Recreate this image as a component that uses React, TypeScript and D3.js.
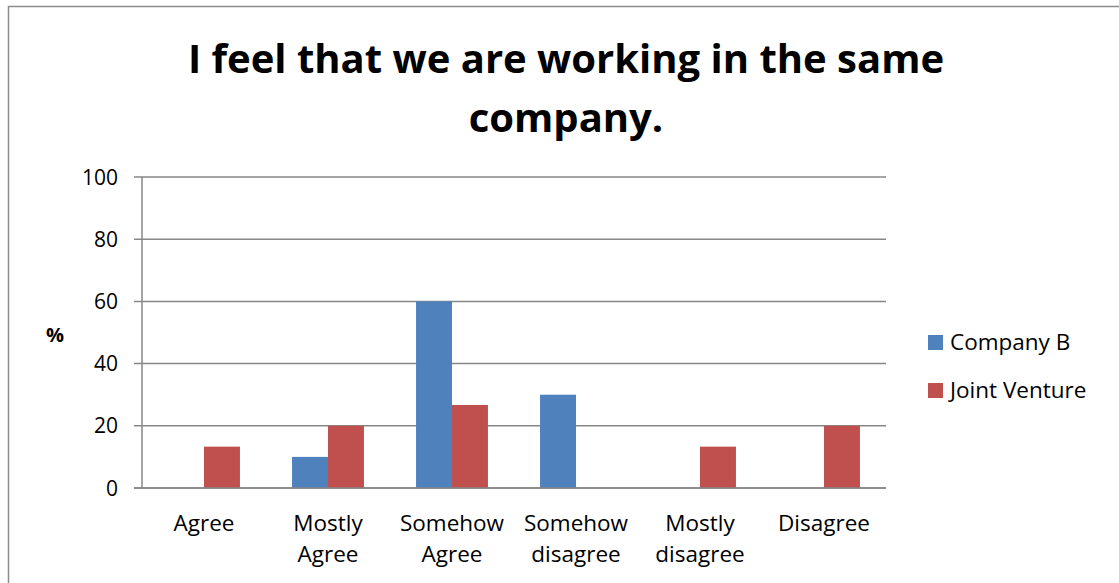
import React from "react";
import * as d3 from "d3";

const categories: string[][] = [
  ["Agree"],
  ["Mostly", "Agree"],
  ["Somehow", "Agree"],
  ["Somehow", "disagree"],
  ["Mostly", "disagree"],
  ["Disagree"],
];
const companyB: number[] = [0, 10, 60, 30, 0, 0];
const jointVenture: number[] = [13.3, 20, 26.7, 0, 13.3, 20];
const seriesNames = ["Company B", "Joint Venture"];
const seriesColors = ["#4F81BD", "#C0504D"];
const yTicks = [0, 20, 40, 60, 80, 100];
const titleLines = ["I feel that we are working in the same", "company."];

export default function App() {
  const W = 1119, H = 583;
  const left = 142, right = 886, top = 177, bottom = 488;
  const font = "'Open Sans', Lato, sans-serif";
  const x0 = d3.scaleBand<number>().domain(d3.range(categories.length)).range([left, right]).paddingInner(0.42).paddingOuter(0.21);
  const x1 = d3.scaleBand<number>().domain([0, 1]).range([0, x0.bandwidth()]);
  const y = d3.scaleLinear().domain([0, 100]).range([bottom, top]);
  const series = [companyB, jointVenture];
  const step = (right - left) / categories.length;
  const grid = "#878787";
  return (
    <svg width={W} height={H} style={{ position: "absolute", left: 0, top: 0 }} fontFamily={font}>
      <rect x={0} y={0} width={W} height={H} fill="#fff" />
      <rect x={8.5} y={6.5} width={W} height={H} fill="none" stroke="#8c8c8c" strokeWidth={1.5} />
      {titleLines.map((t, i) => (
        <text key={i} x={566} y={73 + i * 59} textAnchor="middle" fontSize={40} fontWeight="bold" fill="#000">{t}</text>
      ))}
      {yTicks.map((t) => (
        <g key={t}>
          <line x1={left - 8} x2={right} y1={y(t)} y2={y(t)} stroke={grid} strokeWidth={1.5} />
          <text x={118} y={y(t) + 7.5} textAnchor="end" fontSize={21} fill="#000">{t}</text>
        </g>
      ))}
      <line x1={left} x2={left} y1={top} y2={bottom} stroke={grid} strokeWidth={1.5} />
      <text x={55} y={342} textAnchor="middle" fontSize={20} fontWeight="bold" fill="#000">%</text>
      {series.map((vals, s) =>
        vals.map((v, i) =>
          v > 0 ? (
            <rect key={s + "-" + i} x={(x0(i) as number) + (x1(s) as number)} y={y(v)} width={x1.bandwidth()} height={y(0) - y(v)} fill={seriesColors[s]} />
          ) : null
        )
      )}
      <line x1={left - 8} x2={right} y1={bottom} y2={bottom} stroke={grid} strokeWidth={1.5} />
      {categories.map((lines, i) => (
        <text key={i} x={left + step * (i + 0.5)} textAnchor="middle" fontSize={22.5} fill="#000">
          {lines.map((l, j) => (
            <tspan key={j} x={left + step * (i + 0.5)} y={531 + j * 31}>{l}</tspan>
          ))}
        </text>
      ))}
      {seriesNames.map((n, i) => (
        <g key={n}>
          <rect x={928} y={335 + i * 48} width={15} height={15} fill={seriesColors[i]} />
          <text x={950} y={350 + i * 48} fontSize={22.5} fill="#000">{n}</text>
        </g>
      ))}
    </svg>
  );
}
